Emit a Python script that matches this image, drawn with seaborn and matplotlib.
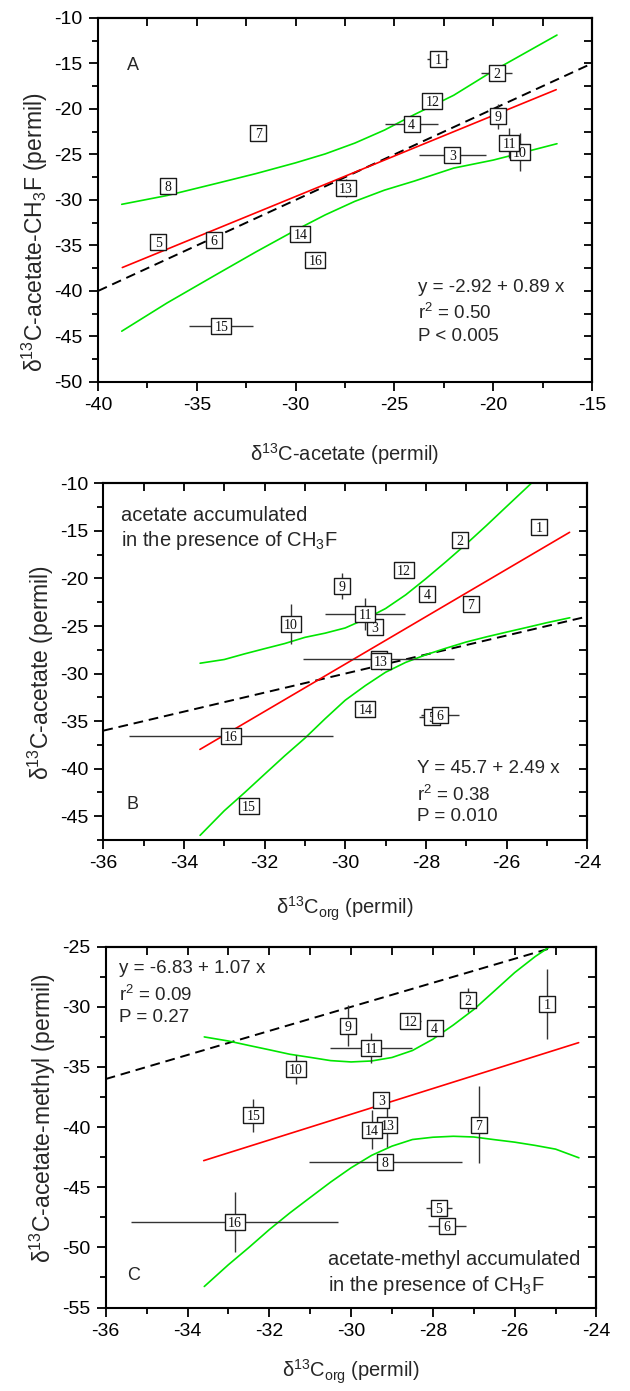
import numpy as np
import matplotlib
matplotlib.use("Agg")
import matplotlib.pyplot as plt
import seaborn as sns
from matplotlib.ticker import MultipleLocator

sns.set_theme(style="white")
plt.rcParams["font.family"] = ["Liberation Sans", "DejaVu Sans"]
plt.rcParams["mathtext.fontset"] = "custom"
plt.rcParams["mathtext.rm"] = "Liberation Sans"
plt.rcParams["mathtext.it"] = "Liberation Sans:italic"
plt.rcParams["mathtext.bf"] = "Liberation Sans:bold"
plt.rcParams["axes.unicode_minus"] = False
plt.rcParams["axes.edgecolor"] = "black"
plt.rcParams["xtick.color"] = "black"
plt.rcParams["ytick.color"] = "black"

# ---- sample data (samples 1..16) ----
sample_ids = list(range(1, 17))
acetate = [-22.80, -19.82, -22.07, -24.13, -36.94, -34.15, -31.89, -36.47,
           -19.75, -18.64, -19.19, -23.08, -27.46, -29.76, -33.76, -29.00]
acetate_err = [0.53, 0.79, 1.69, 1.32, 0.10, 0.30, 0.10, 0.10,
               0.35, 0.30, 0.30, 0.15, 0.47, 0.10, 1.62, 0.10]
acetate_ch3f = [-14.55, -16.00, -25.07, -21.64, -34.60, -34.35, -22.66, -28.50,
                -20.82, -24.75, -23.74, -19.13, -28.65, -33.75, -43.89, -36.57]
acetate_ch3f_err = [0.40, 0.40, 0.30, 0.50, 0.20, 0.30, 0.30, 0.30,
                    1.35, 2.10, 1.70, 0.40, 1.00, 0.40, 0.40, 0.30]
organic = [-25.20, -27.15, -29.26, -27.96, -27.86, -27.65, -26.88, -29.17,
           -30.08, -31.35, -29.51, -28.55, -29.11, -29.50, -32.39, -32.84]
organic_err = [0.15, 0.15, 0.15, 0.15, 0.32, 0.47, 0.15, 1.87,
               0.15, 0.20, 1.00, 0.25, 0.15, 0.20, 0.15, 2.53]
methyl = [-29.78, -29.44, -37.78, -31.75, -46.72, -48.25, -39.80, -42.92,
          -31.58, -35.19, -33.40, -31.17, -39.86, -40.20, -39.03, -47.90]
methyl_err = [2.90, 0.97, 0.60, 0.40, 0.50, 0.45, 3.20, 0.50,
              1.70, 1.20, 1.25, 0.30, 1.80, 1.60, 1.40, 2.50]

# ---- regression results ----
fit_intercept = [-2.92, 45.7, -6.83]
fit_slope = [0.89, 2.49, 1.07]
fit_r2 = ["0.50", "0.38", "0.09"]
fit_p = ["P < 0.005", "P = 0.010", "P = 0.27"]
fit_eq = ["y = -2.92 + 0.89 x", "Y = 45.7 + 2.49 x", "y = -6.83 + 1.07 x"]

# ---- confidence band curves ----
bandA_x = [-38.8, -36.5, -34.0, -32.0, -30.0, -28.5, -27.0, -25.5, -24.0,
           -22.0, -20.0, -18.5, -16.77]
bandA_up = [-30.48, -29.51, -28.18, -27.10, -25.92, -24.94, -23.75, -22.32,
            -20.63, -18.50, -15.82, -13.99, -11.88]
bandA_lo = [-44.42, -41.31, -38.18, -35.70, -33.32, -31.64, -30.15, -28.92,
            -27.93, -26.50, -25.62, -24.79, -23.82]

bandB_x = [-33.6, -33.0, -32.5, -32.0, -31.5, -31.0, -30.5, -30.0, -29.5,
           -29.0, -28.5, -28.0, -27.5, -27.0, -26.5, -26.0, -25.5, -25.0,
           -24.43]
bandB_up = [-28.91, -28.52, -27.93, -27.38, -26.84, -26.19, -25.75, -25.20,
            -24.26, -23.16, -21.72, -20.02, -18.23, -16.38, -14.44, -12.44,
            -10.45, -8.45, -6.13]
bandB_lo = [-47.01, -44.42, -42.53, -40.58, -38.64, -36.79, -34.75, -32.80,
            -31.26, -29.86, -28.82, -28.02, -27.33, -26.68, -26.14, -25.64,
            -25.15, -24.65, -24.13]

bandC_x = [-33.59, -33.0, -32.5, -32.0, -31.5, -31.0, -30.5, -30.0, -29.5,
           -29.0, -28.5, -28.0, -27.5, -27.0, -26.5, -26.0, -25.5, -25.0,
           -24.43]
bandC_up = [-32.50, -32.84, -33.21, -33.57, -33.94, -34.20, -34.47, -34.58,
            -34.50, -34.21, -33.63, -32.69, -31.51, -30.22, -28.69, -27.15,
            -25.82, -24.68, -23.37]
bandC_lo = [-53.25, -51.44, -50.01, -48.52, -47.14, -45.85, -44.57, -43.38,
            -42.35, -41.58, -41.03, -40.84, -40.76, -40.82, -41.04, -41.25,
            -41.52, -41.83, -42.55]

# box markers: square for one-digit ids, wider rectangle for two-digit ids
SQUARE = [(-1, -1), (1, -1), (1, 1), (-1, 1), (-1, -1)]
WIDE = [(-1.36, -1), (1.36, -1), (1.36, 1), (-1.36, 1), (-1.36, -1)]

GREEN = "#00e600"
RED = "#ff0000"


def delta_label(rest):
    return "δ$^{13}$" + rest


def draw_panel(ax, x, xerr, y, yerr, k, band_x, band_up, band_lo,
               xlim, ylim, xmaj, xmin, ymaj, ymin):
    x = np.asarray(x)
    y = np.asarray(y)
    # 1:1 reference line
    sns.lineplot(x=list(xlim), y=list(xlim), color="black", lw=1.4,
                 linestyle=(0, (5, 3)), ax=ax, zorder=1.2)
    # regression line over the data span widened by 10 %
    span = x.max() - x.min()
    fx = np.array([x.min() - 0.1 * span, x.max() + 0.1 * span])
    sns.lineplot(x=fx, y=fit_intercept[k] + fit_slope[k] * fx, color=RED,
                 lw=1.2, ax=ax, zorder=1.3)
    for by in (band_up, band_lo):
        sns.lineplot(x=band_x, y=by, color=GREEN, lw=1.2, ax=ax, zorder=1.4,
                     estimator=None, sort=False)
    ax.errorbar(x, y, xerr=xerr, yerr=yerr, fmt="none", ecolor="#333333",
                elinewidth=1.0, capsize=0, zorder=2)
    # numbered boxes, later samples drawn on top of earlier ones
    for i, (n, xi, yi) in enumerate(zip(sample_ids, x, y)):
        two = len(str(n)) == 2
        sns.scatterplot(x=[xi], y=[yi], marker=WIDE if two else SQUARE,
                        s=225 if two else 118, color="white",
                        edgecolor="#1a1a1a", linewidth=1.0, legend=False,
                        ax=ax, zorder=3 + 0.02 * i)
        ax.text(xi, yi, str(n), ha="center", va="center_baseline",
                fontsize=10, family=["Liberation Serif", "DejaVu Serif"],
                color="#111111", zorder=3.01 + 0.02 * i)
    ax.set_xlim(*xlim)
    ax.set_ylim(*ylim)
    ax.xaxis.set_major_locator(MultipleLocator(xmaj))
    ax.xaxis.set_minor_locator(MultipleLocator(xmin))
    ax.yaxis.set_major_locator(MultipleLocator(ymaj))
    ax.yaxis.set_minor_locator(MultipleLocator(ymin))
    ax.tick_params(which="major", direction="out", length=6.5, width=1.3,
                   labelsize=14, pad=4.5, bottom=True, left=True)
    ax.tick_params(which="minor", direction="out", length=4.5, width=1.3,
                   bottom=True, left=True)
    for s in ax.spines.values():
        s.set_linewidth(1.5)
        s.set_color("black")
    top = ax.secondary_xaxis("top")
    top.xaxis.set_major_locator(MultipleLocator(xmaj))
    top.xaxis.set_minor_locator(MultipleLocator(xmin))
    top.tick_params(which="both", direction="in", length=6, width=1.3,
                    labeltop=False)
    top.spines["top"].set_linewidth(1.5)
    right = ax.secondary_yaxis("right")
    right.yaxis.set_major_locator(MultipleLocator(ymaj))
    right.yaxis.set_minor_locator(MultipleLocator(ymin))
    right.tick_params(which="both", direction="in", length=6, width=1.3,
                      labelright=False)
    right.spines["right"].set_linewidth(1.5)


fig = plt.figure(figsize=(6.3, 13.91), dpi=100)

# ---------------- panel A ----------------
axA = fig.add_axes([0.1556, 0.7254, 0.784, 0.2617])
draw_panel(axA, acetate, acetate_err, acetate_ch3f, acetate_ch3f_err, 0,
           bandA_x, bandA_up, bandA_lo,
           (-40, -15), (-50, -10), 5, 2.5, 5, 2.5)
axA.set_xlabel(delta_label("C-acetate (permil)"), fontsize=14.5, labelpad=19)
axA.set_ylabel(delta_label("C-acetate-CH$_3$F (permil)"), fontsize=16.5,
               labelpad=3, y=0.41)
axA.text(0.058, 0.87, "A", transform=axA.transAxes, fontsize=13, va="center")
for line, fy in zip([fit_eq[0], "r$^2$ = " + fit_r2[0], fit_p[0]],
                    [0.260, 0.189, 0.126]):
    axA.text(0.648, fy, line, transform=axA.transAxes, fontsize=13.5,
             va="center")

# ---------------- panel B ----------------
axB = fig.add_axes([0.164, 0.3961, 0.768, 0.2564])
draw_panel(axB, organic, organic_err, acetate_ch3f, acetate_ch3f_err, 1,
           bandB_x, bandB_up, bandB_lo,
           (-36, -24), (-47.5, -10), 2, 1, 5, 2.5)
axB.set_xlabel(delta_label("C$_{\\mathrm{org}}$ (permil)"), fontsize=14.5,
               labelpad=16)
axB.set_ylabel(delta_label("C-acetate (permil)"), fontsize=16.5,
               labelpad=3, y=0.47)
axB.text(0.036, 0.911, "acetate accumulated", transform=axB.transAxes,
         fontsize=14.5, va="center")
axB.text(0.036, 0.841, "in the presence of CH$_3$F", transform=axB.transAxes,
         fontsize=14.5, va="center")
axB.text(0.048, 0.100, "B", transform=axB.transAxes, fontsize=13, va="center")
for line, fy in zip([fit_eq[1], "r$^2$ = " + fit_r2[1], fit_p[1]],
                    [0.201, 0.126, 0.065]):
    axB.text(0.6475, fy, line, transform=axB.transAxes, fontsize=13.5,
             va="center")

# ---------------- panel C ----------------
axC = fig.add_axes([0.1678, 0.0600, 0.779, 0.2594])
draw_panel(axC, organic, organic_err, methyl, methyl_err, 2,
           bandC_x, bandC_up, bandC_lo,
           (-36, -24), (-55, -25), 2, 1, 5, 2.5)
axC.set_xlabel(delta_label("C$_{\\mathrm{org}}$ (permil)"), fontsize=14.5,
               labelpad=13)
axC.set_ylabel(delta_label("C-acetate-methyl (permil)"), fontsize=16.5,
               labelpad=3, y=0.526)
for line, fy in zip([fit_eq[2], "r$^2$ = " + fit_r2[2], fit_p[2]],
                    [0.940, 0.866, 0.804]):
    axC.text(0.028, fy, line, transform=axC.transAxes, fontsize=13.5,
             va="center")
axC.text(0.043, 0.090, "C", transform=axC.transAxes, fontsize=13, va="center")
axC.text(0.453, 0.132, "acetate-methyl accumulated", transform=axC.transAxes,
         fontsize=14.5, va="center")
axC.text(0.453, 0.062, "in the presence of CH$_3$F", transform=axC.transAxes,
         fontsize=14.5, va="center")

fig.savefig("out.png", dpi=100)
